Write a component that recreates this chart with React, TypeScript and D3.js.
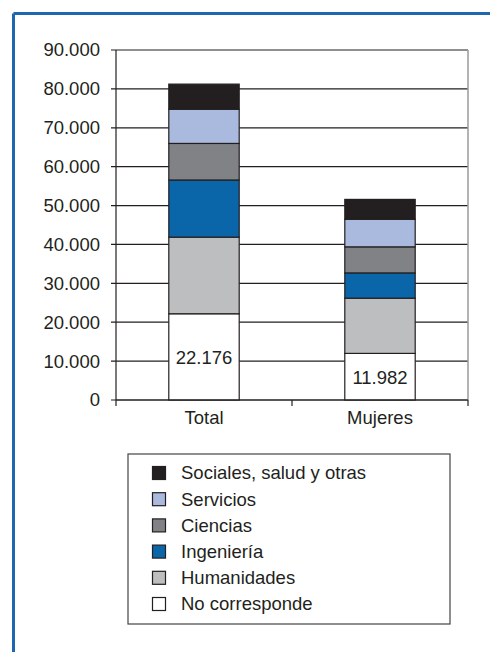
import React from "react";
import * as d3 from "d3";

const categories = ["Total", "Mujeres"];
const seriesNames = [
  "No corresponde",
  "Humanidades",
  "Ingeniería",
  "Ciencias",
  "Servicios",
  "Sociales, salud y otras",
];
const noCorresponde = [22176, 11982];
const humanidades = [19700, 14200];
const ingenieria = [14700, 6500];
const ciencias = [9400, 6700];
const servicios = [8800, 7100];
const sociales = [6450, 5100];
const colors = ["#ffffff", "#bcbec0", "#0b65a9", "#808285", "#a9bade", "#231f20"];
const yTicks = [0, 10000, 20000, 30000, 40000, 50000, 60000, 70000, 80000, 90000];

const seriesValues = [noCorresponde, humanidades, ingenieria, ciencias, servicios, sociales];

const fmt = (v: number) => (v === 0 ? "0" : d3.format(",")(v).replace(/,/g, "."));

export default function App() {
  const W = 490;
  const H = 652;
  const left = 116;
  const right = 468;
  const top = 50;
  const bottom = 400;

  const rows = categories.map((c, i) => {
    const r: any = { cat: c };
    seriesNames.forEach((s, k) => (r[s] = seriesValues[k][i]));
    return r;
  });
  const stacked = d3.stack().keys(seriesNames)(rows);

  const y = d3.scaleLinear().domain([0, 90000]).range([bottom, top]);
  const x = d3.scaleBand().domain(categories).range([left, right]).paddingInner(0.6).paddingOuter(0.3);
  const font = "'Liberation Sans', Arial, sans-serif";

  const legendItems = seriesNames.map((s, i) => ({ name: s, color: colors[i] })).reverse();

  return (
    <svg width={W} height={H} style={{ position: "absolute", left: 0, top: 0 }} fontFamily={font}>
      <rect width={W} height={H} fill="#fff" />
      <line x1={13.5} y1={13.5} x2={W} y2={13.5} stroke="#1f66b0" strokeWidth={3} />
      <line x1={13.5} y1={13.5} x2={13.5} y2={H} stroke="#1f66b0" strokeWidth={3} />

      {yTicks.map((t) => (
        <g key={t}>
          <line x1={left - 5} x2={right} y1={y(t)} y2={y(t)} stroke="#231f20" strokeWidth={1.2} />
          <text x={left - 16} y={y(t)} dy="0.35em" textAnchor="end" fontSize={18.5} fill="#231f20">
            {fmt(t)}
          </text>
        </g>
      ))}
      <line x1={right} x2={right} y1={top} y2={bottom} stroke="#9a9a9a" strokeWidth={1.5} />
      <line x1={left} x2={left} y1={top} y2={bottom} stroke="#231f20" strokeWidth={1.2} />

      {stacked.map((layer, k) =>
        layer.map((d, i) => (
          <rect
            key={k + "-" + i}
            x={x(categories[i])!}
            width={x.bandwidth()}
            y={y(d[1])}
            height={y(d[0]) - y(d[1])}
            fill={colors[k]}
            stroke="#231f20"
            strokeWidth={1.2}
          />
        ))
      )}

      <line x1={left} x2={right} y1={bottom} y2={bottom} stroke="#231f20" strokeWidth={1.2} />
      {[left, (left + right) / 2, right].map((tx, i) => (
        <line key={i} x1={tx} x2={tx} y1={bottom} y2={bottom + 6} stroke="#231f20" strokeWidth={1.2} />
      ))}
      {categories.map((c) => (
        <text key={c} x={x(c)! + x.bandwidth() / 2} y={bottom + 18} dy="0.35em" textAnchor="middle" fontSize={18.5} fill="#231f20">
          {c}
        </text>
      ))}
      {categories.map((c, i) => (
        <text
          key={c + "v"}
          x={x(c)! + x.bandwidth() / 2}
          y={y(noCorresponde[i] / 2) + 1}
          dy="0.35em"
          textAnchor="middle"
          fontSize={18.5}
          fill="#231f20"
        >
          {fmt(noCorresponde[i])}
        </text>
      ))}

      <rect x={128} y={454} width={322} height={170} fill="#fff" stroke="#444" strokeWidth={1.2} />
      {legendItems.map((it, i) => (
        <g key={it.name} transform={`translate(152, ${473 + i * 26.2})`}>
          <rect x={0.5} y={-6.5} width={13} height={13} fill={it.color} stroke="#231f20" strokeWidth={1.2} />
          <text x={29} y={0} dy="0.35em" fontSize={18.5} fill="#231f20">
            {it.name}
          </text>
        </g>
      ))}
    </svg>
  );
}
